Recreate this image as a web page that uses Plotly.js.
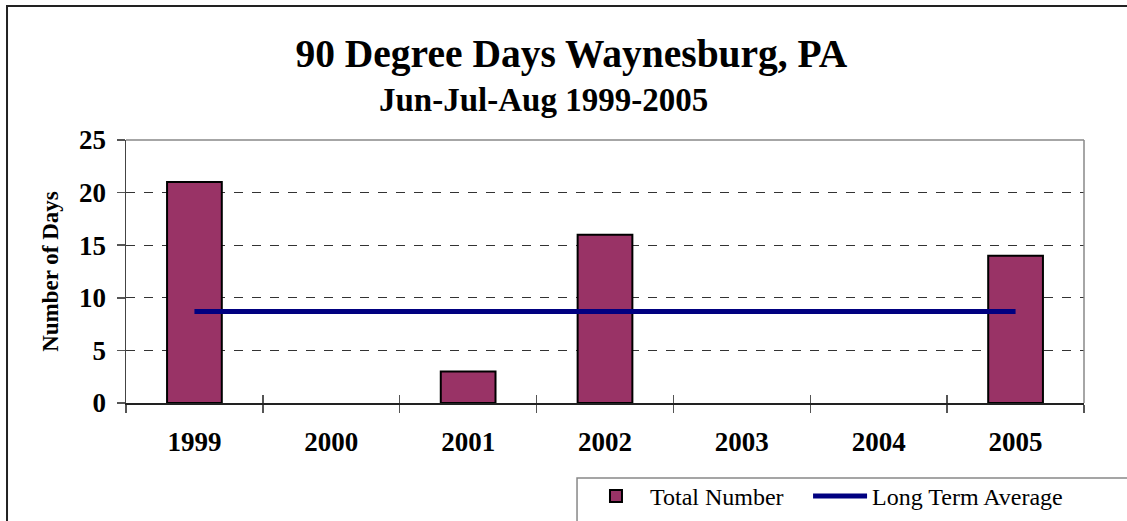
<!DOCTYPE html>
<html>
<head>
<meta charset="utf-8">
<script src="https://cdn.plot.ly/plotly-3.0.1.min.js"></script>
<style>html,body{margin:0;padding:0;background:#fff;}#chart{width:1127px;height:521px;}</style>
</head>
<body>
<div id="chart"></div>
<script>
const years = ["1999", "2000", "2001", "2002", "2003", "2004", "2005"];
const totalNumber = [21, 0, 3, 16, 0, 0, 14];
const avgYears = ["1999", "2005"];
const longTermAverage = [8.7, 8.7];
const yTicks = [0, 5, 10, 15, 20, 25];

const serif = "Liberation Serif, Times New Roman, serif";

const traces = [
  {
    type: "bar", name: "Total Number", x: years, y: totalNumber,
    marker: {color: "#993366", line: {color: "#000000", width: totalNumber.map(v => v > 0 ? 2 : 0)}},
    width: 0.4, legend: "legend"
  },
  {
    type: "scatter", mode: "lines", name: "Long Term Average",
    x: avgYears, y: longTermAverage,
    line: {color: "#000080", width: 5}, legend: "legend2"
  },
  {
    type: "scatter", mode: "lines", x: years, y: totalNumber.map(() => null),
    xaxis: "x2", yaxis: "y", showlegend: false, hoverinfo: "skip"
  }
];

const legendFont = {family: serif, size: 24, color: "#000"};

const layout = {
  width: 1127, height: 521,
  margin: {l: 126, r: 43, t: 140, b: 118},
  paper_bgcolor: "#fff", plot_bgcolor: "#fff",
  font: {family: serif, color: "#000"},
  showlegend: true,
  title: {
    text: "<b>90 Degree Days Waynesburg, PA</b>",
    font: {family: serif, size: 39.5, color: "#000"},
    x: 0.507, xanchor: "center", xref: "container",
    y: 0.898, yanchor: "middle", yref: "container",
    automargin: false
  },
  annotations: [{
    text: "<b>Jun-Jul-Aug 1999-2005</b>", xref: "paper", yref: "paper",
    x: 0.436, y: 1.152, xanchor: "center", yanchor: "middle", showarrow: false,
    font: {family: serif, size: 33, color: "#000"}
  }],
  xaxis: {
    type: "category", categoryorder: "array", categoryarray: years,
    tickson: "boundaries", ticks: "outside", ticklen: 8, tickcolor: "#555", tickwidth: 1.5,
    showline: true, linecolor: "#222", linewidth: 1.5,
    showgrid: false, zeroline: false, automargin: false,
    tickfont: {family: serif, size: 27, color: "#000", weight: "bold"},
    ticklabelstandoff: 14
  },
  xaxis2: {
    type: "category", categoryorder: "array", categoryarray: years,
    overlaying: "x", matches: "x", side: "bottom",
    tickson: "boundaries", ticks: "inside", ticklen: 8, tickcolor: "#555", tickwidth: 1.5,
    showticklabels: false, showline: false, showgrid: false, zeroline: false, automargin: false
  },
  yaxis: {
    range: [0, 25], tickvals: yTicks, ticktext: yTicks.map(String),
    ticks: "outside", ticklen: 8, tickcolor: "#555", tickwidth: 1.5,
    showline: true, linecolor: "#444", linewidth: 1.5,
    showgrid: true, gridcolor: "#333", griddash: "dash", gridwidth: 1,
    zeroline: false, automargin: false,
    tickfont: {family: serif, size: 27, color: "#000", weight: "bold"},
    ticklabelstandoff: 5,
    title: {text: "<b>Number of Days</b>", font: {family: serif, size: 23, color: "#000"}, standoff: 14}
  },
  legend: {
    orientation: "h", xref: "container", yref: "container",
    x: 0.5164, y: 0.0902, xanchor: "left", yanchor: "top",
    font: legendFont, bgcolor: "rgba(0,0,0,0)", borderwidth: 0, itemwidth: 58
  },
  legend2: {
    orientation: "h", xref: "container", yref: "container",
    x: 0.717, y: 0.0902, xanchor: "left", yanchor: "top",
    font: legendFont, bgcolor: "rgba(0,0,0,0)", borderwidth: 0, itemwidth: 54
  },
  shapes: [
    {type: "line", xref: "paper", yref: "paper", x0: 0, x1: 1, y0: 1, y1: 1, line: {color: "#888", width: 1.5}},
    {type: "line", xref: "paper", yref: "paper", x0: 1, x1: 1, y0: 0, y1: 1, line: {color: "#888", width: 1.5}},
    {type: "rect", xref: "paper", yref: "paper", x0: 0.4708, x1: 1.3, y0: -0.285, y1: -0.8, line: {color: "#888", width: 1.5}},
    {type: "rect", xref: "paper", yref: "paper", x0: -0.1242, x1: 1.3, y0: 1.5095, y1: -0.8, line: {color: "#222", width: 2}}
  ]
};

Plotly.newPlot("chart", traces, layout, {displayModeBar: false, staticPlot: true});
</script>
</body>
</html>
